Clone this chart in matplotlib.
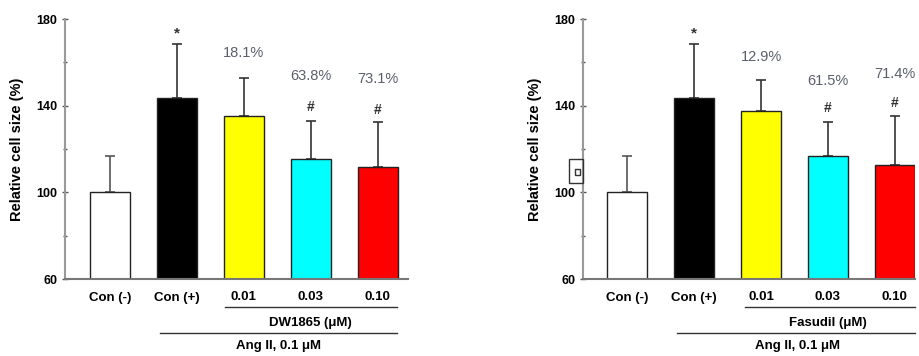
import matplotlib
matplotlib.use("Agg")
import matplotlib.pyplot as plt
from matplotlib.patches import Rectangle

plt.rcParams['font.family'] = ['Liberation Sans', 'DejaVu Sans']

categories = ["Con (-)", "Con (+)", "0.01", "0.03", "0.10"]
colors = ["#ffffff", "#000000", "#ffff00", "#00ffff", "#ff0000"]

dw_means = [100, 143.7, 135.4, 115.6, 111.5]
dw_errors = [17, 24.8, 17.6, 17.4, 21.1]
dw_pct = ["", "", "18.1%", "63.8%", "73.1%"]
dw_sig = ["", "*", "", "#", "#"]

fa_means = [100, 143.7, 137.7, 117.0, 112.4]
fa_errors = [17, 24.8, 14.3, 15.6, 23.0]
fa_pct = ["", "", "12.9%", "61.5%", "71.4%"]
fa_sig = ["", "*", "", "#", "#"]

yticks = [60, 100, 140, 180]
minor_ticks = [80, 120, 160]

fig = plt.figure(figsize=(9.2, 3.56), dpi=100)

W, H = 920.0, 356.0


def make_panel(left_px, right_px, xmin, xmax, means, errors, pct, pct_y, sig, sig_y,
               drug_label, drug_x, line1, line2, ang_x):
    ax = fig.add_axes([left_px / W, 1 - 279 / H, (right_px - left_px) / W, 260 / H])
    x = list(range(len(categories)))
    ax.bar(x, means, width=0.6, color=colors, edgecolor="#222222", linewidth=1.0, zorder=2)
    for xi, m, e in zip(x, means, errors):
        ax.errorbar([xi], [m], yerr=[[0], [e]], fmt='none',
                    ecolor="#555555" if xi == 0 else "#333333",
                    elinewidth=1.2, capsize=3.5, capthick=1.2, zorder=1)
    ax.set_ylim(60, 180)
    ax.set_xlim(xmin, xmax)
    ax.set_yticks(yticks)
    ax.set_yticks(minor_ticks, minor=True)
    ax.set_yticklabels([str(t) for t in yticks], fontsize=9, fontweight='bold')
    ax.tick_params(axis='y', which='major', direction='inout', length=5, width=1, color="#555555", pad=3)
    ax.tick_params(axis='y', which='minor', direction='inout', length=3, width=1, color="#555555")
    ax.set_xticks(x)
    ax.set_xticklabels(categories, fontsize=9.5, fontweight='bold')
    ax.tick_params(axis='x', length=0, pad=9)
    for s in ["top", "right"]:
        ax.spines[s].set_visible(False)
    ax.spines["left"].set_color("#999999")
    ax.spines["left"].set_linewidth(1.5)
    ax.spines["bottom"].set_color("#777777")
    ax.spines["bottom"].set_linewidth(1.5)
    ax.set_ylabel("Relative cell size (%)", fontsize=10.5, fontweight='bold', labelpad=8.5)
    for xi, t, yy in zip(x, pct, pct_y):
        if t:
            ax.text(xi, yy, t, ha='center', va='center', fontsize=10.5, color="#5a5f6a")
    for xi, t, yy in zip(x, sig, sig_y):
        if t:
            ax.text(xi, yy, t, ha='center', va='center', fontsize=11 if t == "*" else 10,
                    color="#333333", fontweight='bold')
    tr = ax.get_xaxis_transform()
    ax.plot(line1, [-0.108, -0.108], color="#333333", lw=1.0, transform=tr, clip_on=False)
    ax.plot(line2, [-0.208, -0.208], color="#333333", lw=1.0, transform=tr, clip_on=False)
    ax.text(drug_x, -0.169, drug_label, ha='center', va='center', fontsize=9.5,
            fontweight='bold', transform=tr)
    ax.text(ang_x, -0.256, "Ang II, 0.1 \u03bcM", ha='center', va='center', fontsize=9.5,
            fontweight='bold', transform=tr)
    return ax


ax1 = make_panel(65, 408, -0.67, 4.45, dw_means, dw_errors, dw_pct,
                 [0, 0, 164.4, 153.8, 152.4], dw_sig, [0, 173.5, 0, 139.5, 138.2],
                 "DW1865 (\u03bcM)", 3.0, [1.72, 4.28], [0.75, 4.28], 2.52)

ax2 = make_panel(583, 915, -0.66, 4.3, fa_means, fa_errors, fa_pct,
                 [0, 0, 162.5, 151.5, 154.7], fa_sig, [0, 173.5, 0, 139, 141.4],
                 "Fasudil (\u03bcM)", 3.0, [1.76, 4.3], [0.75, 4.3], 2.55)

# small box artifact near the right panel's axis
fig.patches.append(Rectangle((569 / W, 1 - 183 / H), 14 / W, 24 / H, transform=fig.transFigure,
                             fill=False, edgecolor="#333333", lw=1.0))
fig.patches.append(Rectangle((575 / W, 1 - 175 / H), 5 / W, 6 / H, transform=fig.transFigure,
                             fill=False, edgecolor="#333333", lw=1.0))

fig.savefig("out.png", dpi=100)
